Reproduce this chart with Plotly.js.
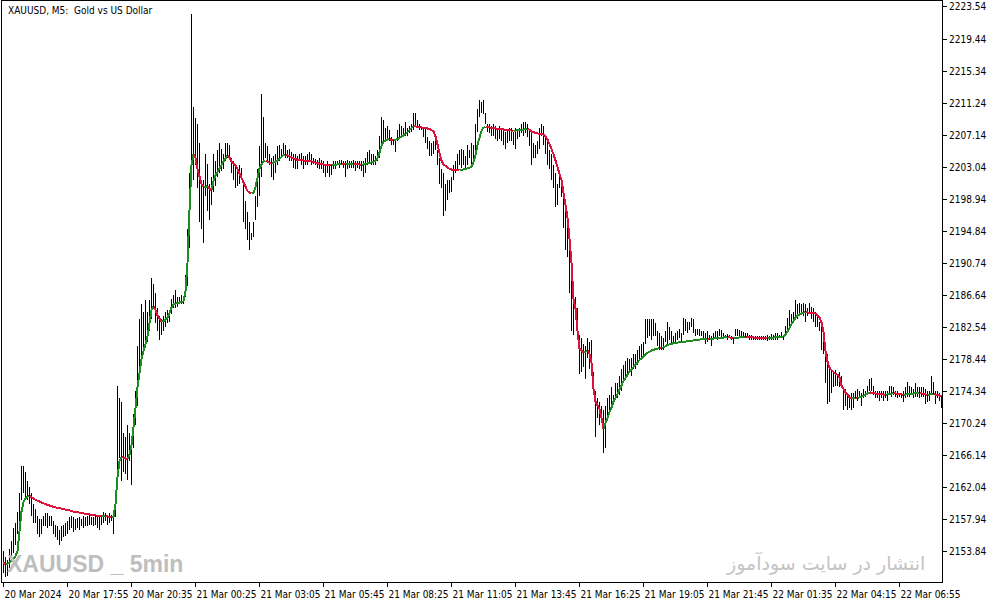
<!DOCTYPE html>
<html>
<head>
<meta charset="utf-8">
<script src="https://cdn.plot.ly/plotly-3.0.1.min.js"></script>
<style>
html,body{margin:0;padding:0;background:#fff;}
#chart{width:994px;height:605px;}
.js-plotly-plot .scatterlayer path.js-line{shape-rendering:crispEdges;}
</style>
</head>
<body>
<div id="chart"></div>
<script>
// ---- Data (XAUUSD M5 bars) ----
const barHigh = [
2154.0,2153.2,2152.8,2154.2,2155.2,2156.9,2157.6,2159.0,2161.4,2164.8,
2164.8,2164.1,2162.9,2162.1,2161.4,2160.0,2159.3,2158.5,2158.1,2158.1,
2158.5,2158.8,2158.8,2158.5,2158.5,2157.8,2157.3,2157.1,2156.6,2157.1,
2157.3,2157.6,2157.8,2158.3,2158.5,2158.3,2158.1,2158.2,2158.3,2158.1,
2158.5,2158.3,2158.5,2158.6,2158.3,2158.3,2158.5,2158.4,2158.3,2158.6,
2158.9,2158.8,2158.5,2158.8,2158.6,2158.5,2160.9,2175.1,2173.5,2173.0,
2169.1,2168.6,2170.1,2169.1,2167.2,2171.5,2174.4,2180.2,2183.6,2185.5,
2184.5,2186.0,2184.5,2186.0,2188.9,2188.1,2186.9,2185.0,2184.0,2183.6,
2184.0,2184.5,2184.8,2184.5,2186.2,2186.7,2187.4,2186.4,2186.4,2186.7,
2186.2,2189.3,2195.1,2202.3,2222.6,2210.7,2209.3,2208.6,2206.2,2201.4,
2201.4,2204.7,2203.5,2200.9,2201.8,2204.7,2203.8,2205.2,2206.2,2205.4,
2204.7,2206.2,2206.1,2205.9,2204.2,2203.8,2203.3,2202.8,2203.3,2203.0,
2201.4,2198.7,2197.3,2196.1,2194.6,2196.1,2199.4,2202.8,2205.7,2212.4,
2209.5,2206.2,2205.7,2204.7,2204.2,2204.5,2204.7,2205.7,2205.9,2205.4,
2206.2,2205.9,2205.2,2205.4,2205.0,2204.7,2204.7,2204.5,2204.7,2204.8,
2204.5,2204.5,2204.7,2205.0,2204.7,2204.2,2204.1,2204.0,2204.2,2204.0,
2203.8,2203.5,2203.8,2203.3,2203.5,2203.8,2203.8,2203.8,2204.0,2204.0,
2203.8,2203.8,2204.0,2203.8,2203.8,2204.0,2203.8,2203.8,2203.8,2203.8,
2203.8,2204.2,2205.0,2205.2,2204.7,2204.7,2204.5,2205.2,2207.1,2209.5,
2209.1,2208.1,2208.3,2207.8,2206.9,2206.6,2206.6,2207.8,2208.6,2208.3,
2208.1,2208.8,2208.1,2208.3,2208.6,2210.0,2210.0,2209.1,2208.6,2208.3,
2208.1,2208.1,2206.9,2206.4,2206.2,2206.4,2206.6,2205.2,2204.2,2202.8,
2202.3,2200.9,2201.4,2201.4,2201.8,2203.3,2203.8,2204.7,2205.2,2205.4,
2205.2,2204.5,2205.9,2205.2,2206.2,2205.9,2208.6,2210.5,2211.7,2211.4,
2211.7,2210.0,2208.6,2208.6,2208.3,2208.6,2208.3,2208.1,2208.3,2207.8,
2207.8,2207.6,2207.8,2208.1,2208.1,2207.6,2208.1,2207.8,2208.1,2208.6,
2208.8,2208.8,2208.6,2207.8,2207.6,2206.2,2205.9,2206.4,2208.1,2208.6,
2208.3,2207.1,2206.6,2205.2,2204.7,2203.3,2202.3,2200.9,2202.3,2201.4,
2200.4,2197.5,2197.0,2193.2,2190.3,2187.9,2186.4,2185.0,2181.6,2181.2,
2180.4,2180.2,2181.2,2180.7,2180.9,2176.8,2174.4,2173.5,2173.0,2172.5,
2172.0,2172.5,2173.5,2173.9,2174.9,2173.9,2175.4,2175.4,2176.3,2177.3,
2177.8,2178.3,2178.7,2178.5,2178.7,2179.2,2179.2,2179.7,2180.2,2180.4,
2180.7,2183.6,2183.6,2183.6,2183.6,2183.6,2183.1,2182.1,2181.9,2181.4,
2181.2,2182.1,2183.3,2182.6,2182.1,2181.4,2181.9,2182.1,2182.3,2181.9,
2183.8,2183.6,2183.3,2183.3,2183.8,2183.6,2182.3,2182.3,2182.3,2182.1,
2182.1,2181.9,2182.1,2181.6,2181.4,2181.9,2182.1,2182.1,2182.3,2182.2,
2181.9,2181.6,2181.7,2181.6,2181.4,2181.3,2182.3,2182.3,2182.2,2182.1,
2182.0,2181.9,2181.8,2181.6,2181.6,2181.5,2181.5,2181.5,2181.5,2181.5,
2181.5,2181.4,2181.6,2181.5,2181.7,2181.6,2181.8,2181.9,2181.6,2182.0,
2181.6,2182.8,2183.8,2184.8,2184.3,2184.5,2186.0,2185.5,2185.7,2185.5,
2185.7,2185.5,2185.0,2185.7,2185.2,2185.0,2184.5,2184.0,2183.3,2183.1,
2182.6,2180.7,2179.2,2177.3,2177.1,2176.8,2177.1,2176.6,2176.8,2176.3,
2174.9,2174.7,2174.2,2173.9,2174.2,2174.2,2174.4,2174.7,2174.4,2174.2,
2174.7,2174.4,2175.1,2175.9,2176.1,2175.1,2174.4,2174.4,2174.4,2174.4,
2174.4,2174.4,2174.4,2175.1,2175.1,2174.9,2174.4,2174.4,2174.2,2174.2,
2174.4,2174.9,2175.6,2175.1,2174.9,2174.7,2175.4,2174.9,2174.9,2174.9,
2174.9,2174.7,2174.4,2174.4,2176.3,2175.6,2174.4,2174.4,2174.2,2173.9
];
const barLow = [
2151.1,2150.6,2150.8,2151.8,2152.8,2153.7,2154.7,2156.1,2157.1,2160.5,
2161.4,2160.9,2160.5,2160.0,2158.5,2157.6,2157.6,2156.1,2155.7,2156.1,
2157.1,2157.1,2156.9,2157.1,2157.1,2156.1,2155.7,2155.4,2154.7,2155.2,
2155.7,2155.9,2156.1,2156.6,2156.9,2156.4,2156.6,2156.9,2156.6,2157.1,
2156.9,2157.1,2157.1,2157.3,2157.3,2157.1,2157.3,2156.9,2156.6,2157.3,
2157.6,2157.8,2157.3,2157.6,2157.8,2156.1,2158.3,2164.3,2165.8,2162.9,
2164.1,2163.8,2163.1,2165.5,2162.4,2167.2,2170.1,2172.5,2176.3,2178.3,
2179.2,2180.2,2180.7,2182.1,2183.6,2185.0,2183.1,2182.1,2180.9,2181.6,
2182.1,2182.6,2183.1,2183.3,2184.3,2185.0,2185.0,2185.2,2185.5,2185.5,
2185.5,2186.4,2187.9,2192.7,2201.8,2201.4,2203.3,2200.4,2196.1,2195.1,
2193.4,2199.4,2197.5,2196.3,2198.2,2199.9,2200.6,2201.8,2202.3,2202.6,
2202.8,2203.8,2204.2,2204.2,2202.3,2201.4,2200.4,2200.6,2200.9,2201.4,
2196.1,2195.1,2193.7,2192.5,2193.7,2194.1,2196.3,2198.0,2199.4,2201.8,
2203.8,2204.2,2203.8,2203.3,2201.8,2201.4,2202.3,2203.3,2203.8,2204.2,
2204.5,2204.2,2204.2,2203.8,2203.8,2203.0,2202.8,2202.8,2203.8,2203.3,
2202.8,2203.3,2203.3,2203.8,2203.3,2203.5,2203.3,2203.0,2202.8,2202.8,
2202.3,2201.8,2202.3,2201.8,2202.1,2202.8,2202.8,2203.3,2203.0,2203.3,
2203.0,2201.8,2202.8,2203.0,2203.0,2203.0,2202.6,2203.0,2202.8,2202.6,
2201.8,2202.3,2203.3,2203.5,2203.3,2203.3,2203.3,2203.8,2204.2,2205.7,
2206.4,2206.6,2206.6,2206.4,2205.9,2205.9,2205.0,2206.4,2206.6,2206.9,
2206.9,2207.1,2207.1,2207.4,2207.6,2207.8,2208.3,2208.1,2207.8,2207.8,
2206.9,2206.2,2205.4,2204.5,2204.5,2204.7,2205.2,2203.3,2200.9,2200.4,
2196.8,2197.5,2198.9,2199.7,2199.9,2201.4,2202.3,2202.8,2203.3,2203.0,
2203.3,2203.0,2203.3,2204.2,2203.3,2203.5,2205.2,2207.6,2209.5,2210.0,
2209.8,2208.6,2207.6,2207.4,2207.1,2207.1,2206.6,2206.4,2206.6,2206.4,
2205.9,2205.4,2206.2,2206.4,2206.4,2205.9,2205.4,2206.6,2206.9,2207.4,
2207.1,2207.4,2206.9,2205.7,2203.3,2204.2,2204.2,2204.7,2205.4,2207.1,
2205.9,2204.7,2203.3,2202.8,2201.4,2200.4,2198.0,2198.2,2200.4,2199.2,
2195.3,2192.5,2191.5,2186.9,2182.1,2181.6,2183.6,2182.1,2176.6,2176.8,
2177.5,2175.9,2178.7,2177.3,2176.6,2173.9,2168.6,2171.0,2170.1,2171.0,
2166.5,2167.2,2171.0,2171.5,2172.5,2172.7,2173.5,2173.5,2173.9,2174.4,
2175.9,2176.1,2176.3,2176.8,2176.3,2177.3,2177.3,2177.8,2178.3,2178.7,
2179.0,2180.4,2181.2,2181.4,2180.9,2181.4,2181.4,2180.2,2179.7,2179.7,
2179.7,2180.7,2180.4,2180.9,2180.4,2180.4,2180.6,2180.9,2181.2,2180.7,
2181.6,2182.1,2181.9,2182.2,2182.6,2181.9,2181.4,2181.6,2181.4,2181.4,
2180.9,2180.4,2180.7,2180.9,2180.2,2180.9,2181.2,2180.9,2181.4,2181.3,
2181.2,2181.2,2180.9,2181.2,2180.9,2180.4,2181.4,2181.5,2181.4,2181.4,
2181.2,2181.2,2181.2,2180.9,2181.0,2180.9,2181.0,2180.9,2181.0,2181.0,
2180.9,2180.9,2180.8,2181.0,2181.0,2180.9,2180.9,2181.0,2181.2,2181.2,
2181.0,2181.4,2181.9,2182.6,2183.1,2183.1,2184.0,2183.6,2184.0,2184.3,
2184.0,2183.3,2184.0,2184.3,2183.6,2183.3,2182.6,2182.6,2182.1,2179.7,
2179.2,2175.4,2172.7,2173.0,2174.2,2174.9,2175.1,2175.1,2174.9,2174.9,
2172.0,2172.5,2172.0,2172.3,2172.0,2172.3,2173.5,2173.2,2173.5,2172.5,
2173.5,2173.7,2173.9,2174.4,2174.4,2173.9,2173.5,2173.5,2173.2,2173.5,
2173.1,2173.5,2173.2,2173.9,2173.7,2173.9,2173.7,2173.5,2173.7,2173.5,
2173.0,2173.5,2173.7,2173.7,2173.9,2173.5,2173.7,2173.7,2173.5,2173.7,
2173.7,2172.7,2173.0,2173.2,2173.9,2173.9,2172.7,2173.5,2173.2,2172.3
];
const maValues = [
2152.5,2152.3,2152.3,2152.5,2152.7,2153.0,2153.3,2154.0,2156.5,2159.0,
2160.2,2160.7,2160.9,2161.0,2160.8,2160.6,2160.5,2160.4,2160.25,2160.15,
2160.05,2159.95,2159.9,2159.8,2159.7,2159.6,2159.55,2159.5,2159.45,2159.4,
2159.35,2159.3,2159.2,2159.15,2159.1,2159.0,2158.95,2158.9,2158.85,2158.8,
2158.75,2158.7,2158.65,2158.6,2158.55,2158.5,2158.47,2158.44,2158.41,2158.38,
2158.40,2158.42,2158.38,2158.33,2158.30,2158.35,2160.0,2163.4,2165.5,2166.0,
2165.9,2165.8,2165.7,2166.3,2167.5,2169.5,2172.2,2174.9,2177.0,2178.5,
2179.5,2180.4,2181.4,2183.1,2184.8,2185.2,2184.8,2184.1,2183.6,2183.3,
2183.35,2183.6,2183.8,2184.4,2185.1,2185.5,2185.6,2185.7,2185.8,2185.85,
2185.9,2187.2,2190.8,2197.5,2203.3,2204.7,2204.2,2202.8,2201.7,2200.9,
2200.5,2200.6,2200.6,2200.4,2200.1,2201.3,2202.0,2202.5,2202.8,2203.3,
2203.8,2204.2,2204.5,2204.3,2203.8,2203.5,2203.3,2202.8,2202.2,2201.6,
2201.0,2200.5,2200.0,2199.8,2199.7,2199.8,2200.5,2201.8,2202.9,2203.4,
2203.8,2203.9,2203.7,2203.6,2203.5,2203.6,2203.7,2203.9,2204.1,2204.4,
2204.6,2204.65,2204.6,2204.4,2204.3,2204.1,2204.0,2203.98,2203.96,2203.94,
2203.92,2203.90,2203.88,2203.85,2203.8,2203.7,2203.6,2203.5,2203.48,2203.42,
2203.38,2203.34,2203.32,2203.30,2203.28,2203.32,2203.36,2203.40,2203.45,2203.47,
2203.45,2203.44,2203.46,2203.48,2203.49,2203.50,2203.45,2203.42,2203.38,2203.35,
2203.40,2203.48,2203.56,2203.62,2203.68,2203.72,2203.9,2204.2,2204.9,2205.8,
2206.3,2206.5,2206.6,2206.62,2206.55,2206.5,2206.55,2206.65,2206.8,2206.9,
2207.1,2207.3,2207.55,2207.8,2208.1,2208.3,2208.25,2208.2,2208.15,2208.1,
2208.08,2208.05,2208.0,2207.95,2207.8,2207.6,2207.0,2206.1,2204.9,2203.9,
2203.4,2203.2,2203.0,2202.85,2202.75,2202.7,2202.67,2202.65,2202.63,2202.68,
2202.75,2202.82,2202.9,2202.98,2203.1,2203.7,2204.6,2205.9,2207.0,2207.7,
2208.1,2208.2,2208.18,2208.12,2208.1,2208.05,2208.0,2207.98,2207.92,2207.9,
2207.87,2207.82,2207.8,2207.76,2207.72,2207.70,2207.74,2207.78,2207.82,2207.86,
2207.88,2207.9,2207.92,2207.85,2207.6,2207.5,2207.4,2207.35,2207.3,2207.28,
2207.2,2207.0,2206.6,2206.0,2205.4,2204.7,2203.9,2202.9,2202.2,2201.4,
2199.8,2198.2,2196.6,2193.9,2190.8,2186.2,2185.0,2182.1,2179.8,2179.6,
2179.3,2179.4,2179.6,2179.2,2178.0,2174.7,2173.1,2172.6,2172.1,2171.0,
2169.6,2170.4,2171.1,2171.7,2172.3,2173.1,2173.5,2174.1,2174.6,2175.2,
2175.7,2176.1,2176.6,2176.9,2177.2,2177.5,2177.8,2178.2,2178.4,2178.6,
2178.9,2179.1,2179.3,2179.5,2179.6,2179.7,2179.75,2179.85,2179.9,2179.87,
2180.05,2180.2,2180.3,2180.4,2180.5,2180.53,2180.58,2180.62,2180.65,2180.68,
2180.72,2180.75,2180.78,2180.81,2180.84,2180.87,2180.91,2180.95,2181.0,2181.04,
2181.07,2181.1,2181.12,2181.08,2181.1,2181.14,2181.18,2181.21,2181.24,2181.27,
2181.3,2181.31,2181.32,2181.26,2181.22,2181.2,2181.24,2181.27,2181.3,2181.32,
2181.33,2181.34,2181.31,2181.29,2181.27,2181.26,2181.25,2181.24,2181.23,2181.22,
2181.21,2181.2,2181.19,2181.2,2181.22,2181.24,2181.27,2181.3,2181.33,2181.36,
2181.42,2181.6,2182.0,2182.5,2183.0,2183.5,2183.8,2184.1,2184.25,2184.35,
2184.45,2184.5,2184.48,2184.46,2184.43,2184.4,2184.3,2184.15,2183.8,2183.2,
2182.0,2179.5,2178.2,2177.4,2177.1,2176.8,2176.6,2176.5,2176.15,2175.1,
2174.6,2174.27,2173.94,2173.6,2173.45,2173.52,2173.58,2173.55,2173.6,2173.7,
2173.82,2173.95,2174.1,2174.25,2174.24,2174.18,2174.12,2174.07,2174.0,2173.96,
2173.94,2173.93,2173.95,2174.0,2174.08,2174.16,2174.12,2174.04,2173.99,2173.96,
2173.94,2173.97,2174.03,2174.1,2174.14,2174.16,2174.17,2174.18,2174.19,2174.15,
2174.05,2173.98,2173.94,2173.96,2173.99,2174.03,2174.0,2173.94,2173.85,2173.78
];
const timeTickIndex = [0,32,64,96,128,160,192,224,256,288,320,352,384,416,448];
const timeTickLabels = ["20 Mar 2024","20 Mar 17:55","20 Mar 20:35","21 Mar 00:25","21 Mar 03:05",
  "21 Mar 05:45","21 Mar 08:25","21 Mar 11:05","21 Mar 13:45","21 Mar 16:25",
  "21 Mar 19:05","21 Mar 21:45","22 Mar 01:35","22 Mar 04:15","22 Mar 06:55"];
const priceTicks = [2153.84,2157.94,2162.04,2166.14,2170.24,2174.34,2178.44,2182.54,2186.64,
  2190.74,2194.84,2198.94,2203.04,2207.14,2211.24,2215.34,2219.44,2223.54];

// ---- Build traces ----
const n = barHigh.length;
const bx = [], by = [];
for (let i = 0; i < n; i++) { bx.push(i, i, null); by.push(barLow[i], barHigh[i], null); }

const up = {x: [], y: []}, dn = {x: [], y: []};
let prev = null;
for (let i = 1; i < maValues.length; i++) {
  const c = maValues[i] >= maValues[i - 1] ? 'u' : 'd';
  const t = c === 'u' ? up : dn;
  if (c !== prev) {
    if (t.x.length) { t.x.push(null); t.y.push(null); }
    t.x.push(i - 1); t.y.push(maValues[i - 1]);
  }
  t.x.push(i); t.y.push(maValues[i]);
  prev = c;
}

const FONT = "Tahoma, 'DejaVu Sans Condensed', 'Liberation Sans', sans-serif";
const traces = [
  {type: 'scatter', mode: 'lines', x: bx, y: by, line: {color: '#000000', width: 1}, hoverinfo: 'skip', showlegend: false, connectgaps: false},
  {type: 'scatter', mode: 'lines', x: up.x, y: up.y, line: {color: '#1E8C1E', width: 2}, hoverinfo: 'skip', showlegend: false, connectgaps: false},
  {type: 'scatter', mode: 'lines', x: dn.x, y: dn.y, line: {color: '#DC143C', width: 2}, hoverinfo: 'skip', showlegend: false, connectgaps: false}
];

const layout = {
  width: 994, height: 605,
  margin: {l: 2, r: 52, t: 1, b: 23, pad: 0},
  paper_bgcolor: '#ffffff', plot_bgcolor: '#ffffff',
  showlegend: false,
  font: {family: FONT, size: 10, color: '#000000'},
  xaxis: {
    range: [-0.75, 469.25], showgrid: false, zeroline: false,
    showline: true, mirror: true, linecolor: '#000000', linewidth: 1,
    ticks: 'outside', ticklen: 4, tickcolor: '#000000', tickwidth: 1,
    tickmode: 'array', tickvals: timeTickIndex, ticktext: timeTickLabels,
    ticklabelposition: 'outside right', tickangle: 0, ticklabelstandoff: 3,
    tickfont: {family: FONT, size: 10, color: '#000000'},
    automargin: false, fixedrange: true
  },
  yaxis: {
    side: 'right', range: [2150.0, 2224.3], showgrid: false, zeroline: false,
    showline: true, mirror: true, linecolor: '#000000', linewidth: 1,
    ticks: 'outside', ticklen: 4, tickcolor: '#000000', tickwidth: 1,
    tickmode: 'array', tickvals: priceTicks, ticktext: priceTicks.map(v => v.toFixed(2)),
    tickfont: {family: FONT, size: 10, color: '#000000'},
    automargin: false, fixedrange: true
  },
  annotations: [
    {xref: 'paper', yref: 'paper', x: 0.004, y: 1, xanchor: 'left', yanchor: 'top', yshift: -2,
     text: 'XAUUSD, M5:\u00A0 Gold vs US Dollar', showarrow: false,
     font: {family: FONT, size: 10, color: '#000000'}},
    {xref: 'paper', yref: 'paper', x: 0.003, y: 0.031, xanchor: 'left', yanchor: 'middle',
     text: '<b>XAUUSD _ 5min</b>', showarrow: false,
     font: {family: "'Liberation Sans', sans-serif", size: 23, color: '#BEBEBE'}},
    {xref: 'paper', yref: 'paper', x: 0.984, y: 0.033, xanchor: 'right', yanchor: 'middle',
     text: 'انتشار در سایت سودآموز', showarrow: false,
     font: {family: "'DejaVu Sans', sans-serif", size: 19, color: '#C4C4C4'}}
  ]
};

Plotly.newPlot('chart', traces, layout, {staticPlot: true, displayModeBar: false});
</script>
</body>
</html>
